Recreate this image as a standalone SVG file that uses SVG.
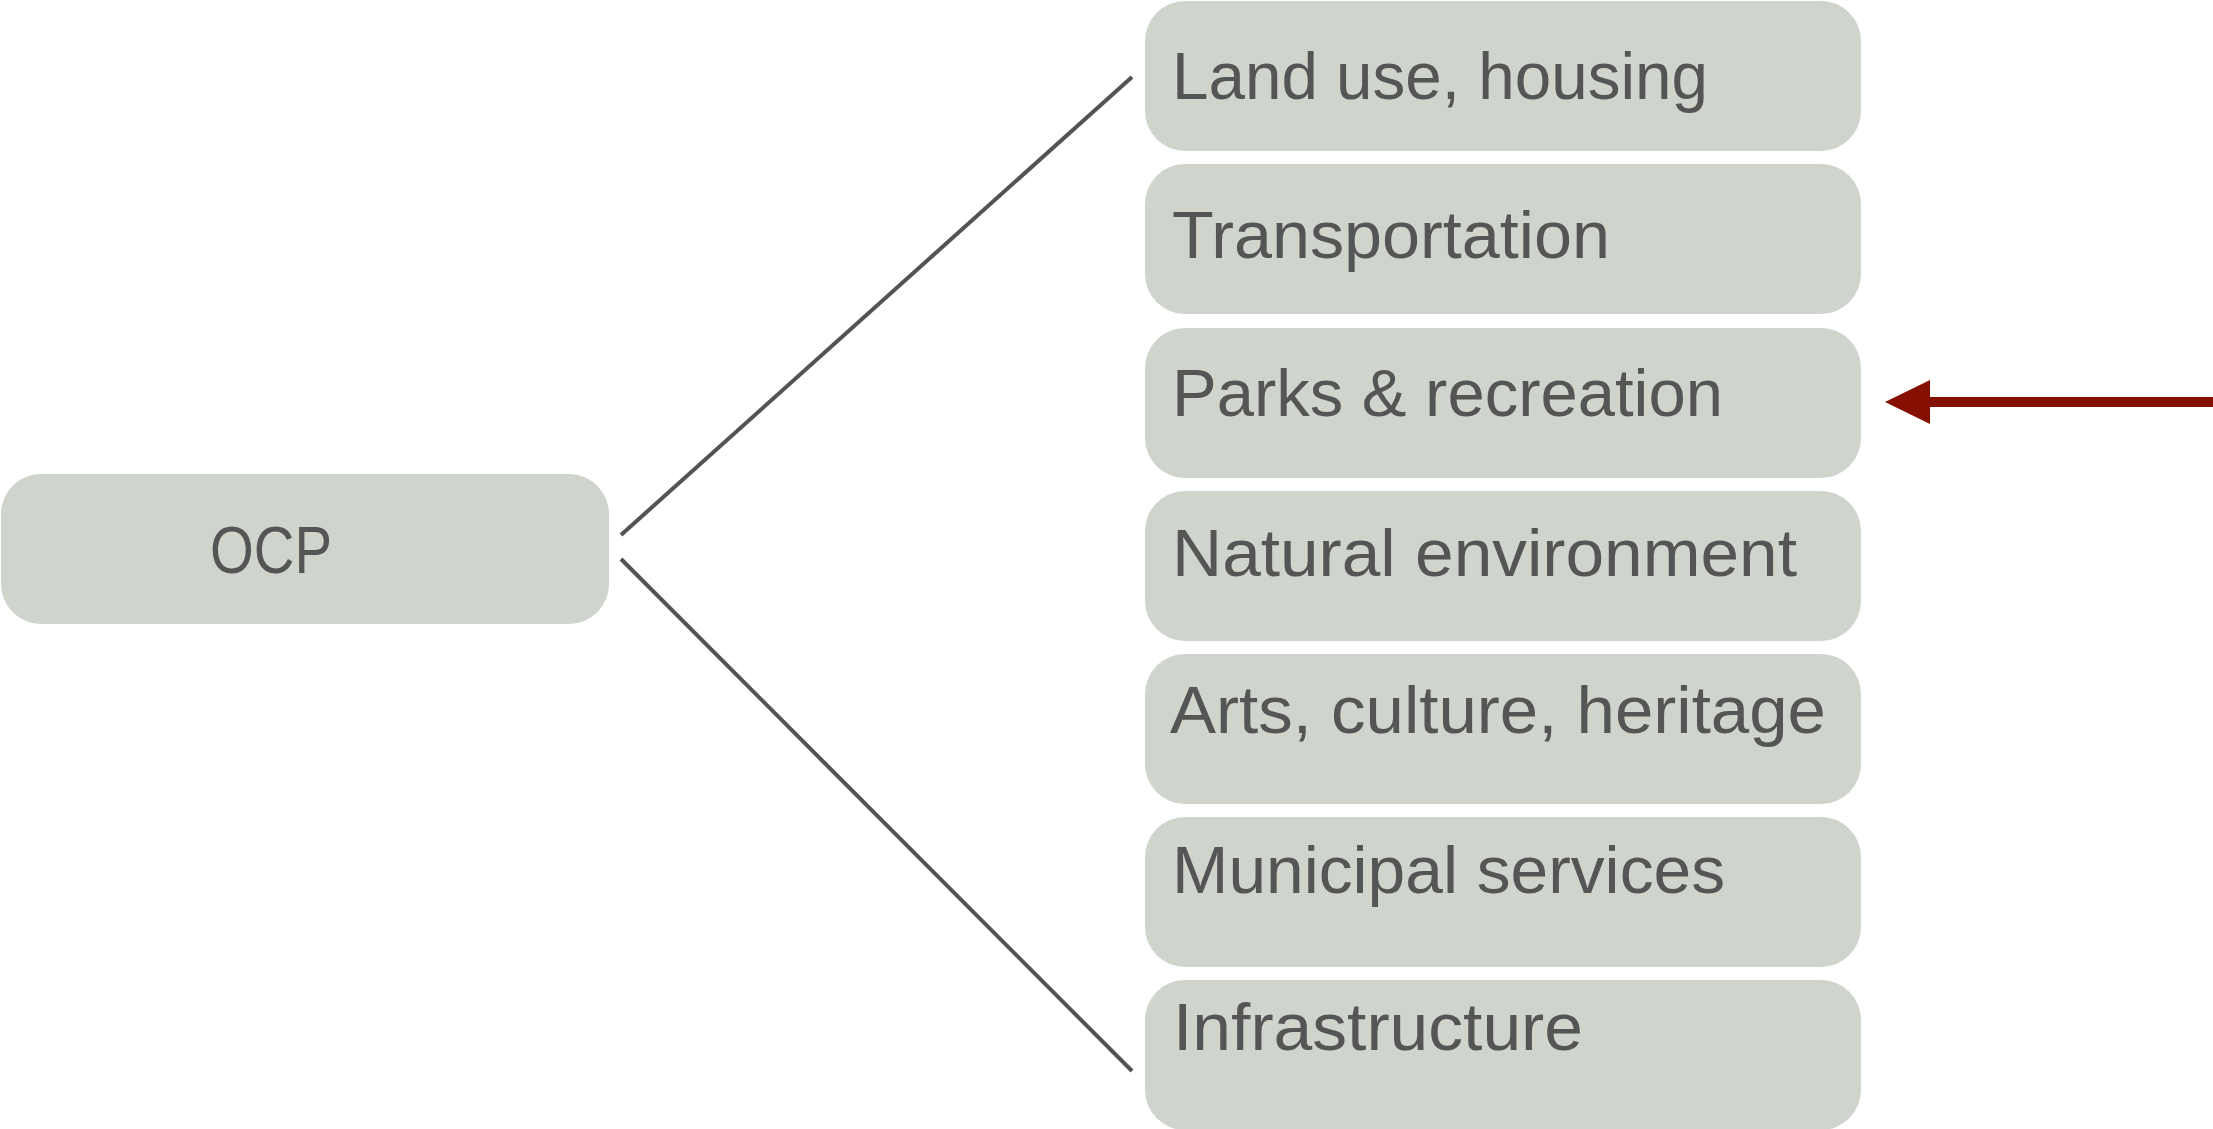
<svg xmlns="http://www.w3.org/2000/svg" width="2213" height="1129" viewBox="0 0 2213 1129">
  <style>
    .box { fill: #CFD4CD; }
    .lbl { font-family: "Liberation Sans", Arial, sans-serif; font-size: 67px; fill: #555555; }
    .conn { stroke: #535353; stroke-width: 4; fill: none; }
    .arrow { stroke: #861000; stroke-width: 10; fill: none; }
  </style>
  <rect width="2213" height="1129" fill="#FFFFFF"/>

  <g id="connectors">
    <line class="conn" x1="621" y1="535" x2="1132" y2="77"/>
    <line class="conn" x1="621" y1="559" x2="1132" y2="1071"/>
    <line class="arrow" x1="2213" y1="402" x2="1928" y2="402"/>
    <path d="M1885,402 L1930,380 L1930,424 Z" fill="#861000"/>
  </g>

  <g id="node-ocp">
    <rect class="box" x="1" y="474" width="608" height="150" rx="40"/>
    <text class="lbl" x="210" y="573" textLength="122" lengthAdjust="spacingAndGlyphs">OCP</text>
  </g>
  <g id="node-land">
    <rect class="box" x="1145" y="1" width="716" height="150" rx="40"/>
    <text class="lbl" x="1172" y="99" textLength="536" lengthAdjust="spacingAndGlyphs">Land use, housing</text>
  </g>
  <g id="node-transport">
    <rect class="box" x="1145" y="164" width="716" height="150" rx="40"/>
    <text class="lbl" x="1172" y="258" textLength="438" lengthAdjust="spacingAndGlyphs">Transportation</text>
  </g>
  <g id="node-parks">
    <rect class="box" x="1145" y="328" width="716" height="150" rx="40"/>
    <text class="lbl" x="1172" y="416" textLength="551" lengthAdjust="spacingAndGlyphs">Parks &amp; recreation</text>
  </g>
  <g id="node-natural">
    <rect class="box" x="1145" y="491" width="716" height="150" rx="40"/>
    <text class="lbl" x="1172" y="576" textLength="625" lengthAdjust="spacingAndGlyphs">Natural environment</text>
  </g>
  <g id="node-arts">
    <rect class="box" x="1145" y="654" width="716" height="150" rx="40"/>
    <text class="lbl" x="1170" y="733" textLength="656" lengthAdjust="spacingAndGlyphs">Arts, culture, heritage</text>
  </g>
  <g id="node-municipal">
    <rect class="box" x="1145" y="817" width="716" height="150" rx="40"/>
    <text class="lbl" x="1172" y="893" textLength="553" lengthAdjust="spacingAndGlyphs">Municipal services</text>
  </g>
  <g id="node-infra">
    <rect class="box" x="1145" y="980" width="716" height="150" rx="40"/>
    <text class="lbl" x="1173" y="1050" textLength="410" lengthAdjust="spacingAndGlyphs">Infrastructure</text>
  </g>
</svg>
